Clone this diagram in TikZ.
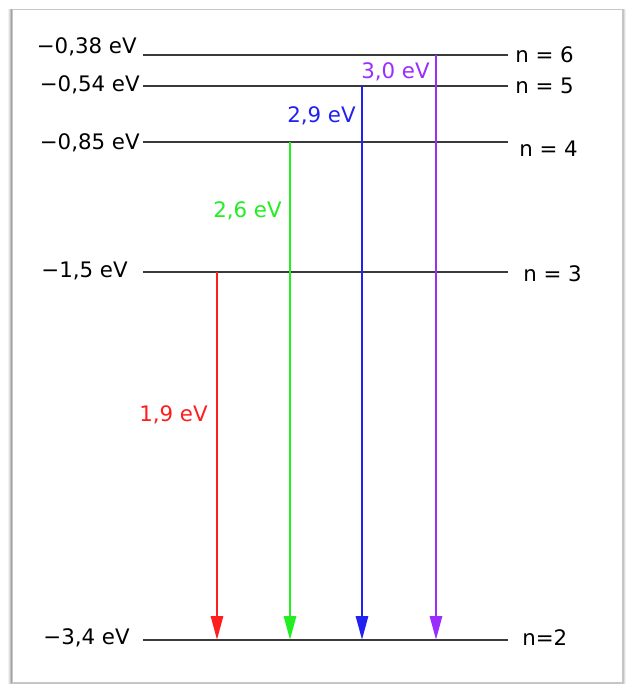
\documentclass[tikz,border=0pt]{standalone}
\usepackage{fontspec}
\setmainfont{DejaVu Sans}
\usepackage{xcolor}
\usepackage{tikz}
\usetikzlibrary{positioning,arrows.meta}
\definecolor{hred}{HTML}{FF1E1E}
\definecolor{hgreen}{HTML}{22EE22}
\definecolor{hblue}{HTML}{2222F0}
\definecolor{hviolet}{HTML}{9A2EFF}
\definecolor{hline}{HTML}{3A3A3A}

\begin{document}
\begin{tikzpicture}[
  x=0.75pt,y=-0.75pt,
  lvl/.style={draw=hline,line width=1.3pt},
  elab/.style={anchor=east,inner sep=0pt,font=\fontsize{16}{18}\selectfont},
  nlab/.style={anchor=west,inner sep=0pt,font=\fontsize{16}{18}\selectfont},
  plab/.style={anchor=east,inner sep=0pt,font=\fontsize{16}{18}\selectfont},
  photon/.style={line width=2.2pt,-{Triangle[length=18pt,width=9pt]}}
]
\useasboundingbox (0,0) rectangle (632,684);
% frame with soft shadow
\foreach \d/\o in {4/0.05,3/0.08,2/0.12,1/0.18}
  \fill[black,opacity=\o] (12-\d,9) rectangle (622+\d,682+\d);
\draw[draw=black!22,fill=white] (12,9) rectangle (622,682);

% levels
\coordinate (l6a) at (143,55);  \coordinate (l6b) at (508,55);
\coordinate (l5a) at (143,86);  \coordinate (l5b) at (508,86);
\coordinate (l4a) at (143,142); \coordinate (l4b) at (508,142);
\coordinate (l3a) at (143,272); \coordinate (l3b) at (508,272);
\coordinate (l2a) at (143,640); \coordinate (l2b) at (508,640);
\foreach \n in {6,5,4,3,2} \draw[lvl] (l\n a) -- (l\n b);

\node[elab] (e6) at (137,47)  {−0,38 eV};
\node[elab] (e5) at (140,85)  {−0,54 eV};
\node[elab] (e4) at (140,143) {−0,85 eV};
\node[elab] (e3) at (128,271) {−1,5 eV};
\node[elab] (e2) at (130,638) {−3,4 eV};

\node[nlab] (n6) at (515,55)  {n = 6};
\node[nlab] (n5) at (515,86)  {n = 5};
\node[nlab] (n4) at (519,149) {n = 4};
\node[nlab] (n3) at (523,274) {n = 3};
\node[nlab] (n2) at (522,638) {n=2};

% transitions
\coordinate (t3) at (217,272); \coordinate (b3) at (217,640);
\coordinate (t4) at (290,142); \coordinate (b4) at (290,640);
\coordinate (t5) at (362,86);  \coordinate (b5) at (362,640);
\coordinate (t6) at (436,55);  \coordinate (b6) at (436,640);
\draw[photon,hred]    (t3) -- (b3);
\draw[photon,hgreen]  (t4) -- (b4);
\draw[photon,hblue]   (t5) -- (b5);
\draw[photon,hviolet] (t6) -- (b6);

\node[plab,text=hred]    (p3) at (208,415) {1,9 eV};
\node[plab,text=hgreen]  (p4) at (282,211) {2,6 eV};
\node[plab,text=hblue]   (p5) at (356,116) {2,9 eV};
\node[plab,text=hviolet] (p6) at (430,72)  {3,0 eV};
\end{tikzpicture}
\end{document}
